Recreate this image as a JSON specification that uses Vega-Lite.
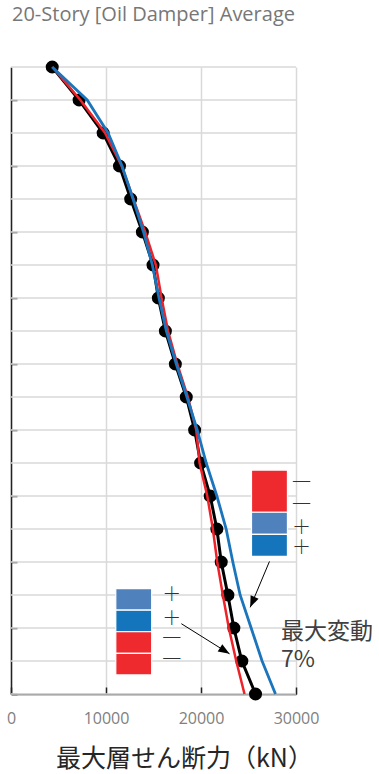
{
  "$schema": "https://vega.github.io/schema/vega-lite/v6.json",
  "width": 285,
  "height": 627,
  "autosize": "none",
  "padding": {"left": 11, "top": 67, "right": 83, "bottom": 80},
  "background": "white",
  "title": {"text": "20-Story [Oil Damper] Average", "anchor": "start", "frame": "group", "font": "Open Sans", "fontSize": 20, "fontWeight": "normal", "color": "#777777", "baseline": "alphabetic", "offset": 19, "dx": 1},
  "config": {
    "view": {"stroke": null},
    "axisX": {"grid": true, "gridColor": "#d9d9d9", "gridWidth": 1.5, "domainColor": "#222222", "domainWidth": 1.5, "tickColor": "#222222", "tickWidth": 1.5},
    "axisY": {"grid": false, "domainColor": "#222222", "domainWidth": 1.5, "tickColor": "#222222", "tickWidth": 1.5}
  },
  "datasets": {
    "profiles": [
      {"story": 20, "avg": 4340, "red": 4340, "blue": 4340},
      {"story": 19, "avg": 7170, "red": 7300, "blue": 8020},
      {"story": 18, "avg": 9700, "red": 9900, "blue": 10220},
      {"story": 17, "avg": 11420, "red": 11650, "blue": 11690},
      {"story": 16, "avg": 12600, "red": 12880, "blue": 12850},
      {"story": 15, "avg": 13830, "red": 14120, "blue": 13950},
      {"story": 14, "avg": 14950, "red": 15250, "blue": 14880},
      {"story": 13, "avg": 15510, "red": 15850, "blue": 15580},
      {"story": 12, "avg": 16250, "red": 16530, "blue": 16350},
      {"story": 11, "avg": 17300, "red": 17500, "blue": 17400},
      {"story": 10, "avg": 18450, "red": 18620, "blue": 18520},
      {"story": 9, "avg": 19330, "red": 19500, "blue": 19600},
      {"story": 8, "avg": 19960, "red": 19850, "blue": 20550},
      {"story": 7, "avg": 20970, "red": 20660, "blue": 21670},
      {"story": 6, "avg": 21670, "red": 21250, "blue": 22650},
      {"story": 5, "avg": 22130, "red": 21710, "blue": 23350},
      {"story": 4, "avg": 22830, "red": 22300, "blue": 24120},
      {"story": 3, "avg": 23460, "red": 22930, "blue": 25280},
      {"story": 2, "avg": 24300, "red": 23710, "blue": 26430},
      {"story": 1, "avg": 25740, "red": 24580, "blue": 27840}
    ],
    "boxes": [
      {"x0": 25315, "x1": 29100, "y0": 6.508, "y1": 7.786, "kind": "minus"},
      {"x0": 25315, "x1": 29100, "y0": 5.839, "y1": 6.508, "kind": "plus1"},
      {"x0": 25315, "x1": 29100, "y0": 5.169, "y1": 5.839, "kind": "plus2"},
      {"x0": 11030, "x1": 14810, "y0": 3.541, "y1": 4.195, "kind": "plus1"},
      {"x0": 11030, "x1": 14810, "y0": 2.887, "y1": 3.541, "kind": "plus2"},
      {"x0": 11030, "x1": 14810, "y0": 2.233, "y1": 2.887, "kind": "minus"},
      {"x0": 11030, "x1": 14810, "y0": 1.578, "y1": 2.233, "kind": "minus"}
    ],
    "signs": [
      {"x": 30570, "y": 7.39, "t": "一"},
      {"x": 30570, "y": 6.72, "t": "一"},
      {"x": 30570, "y": 6.03, "t": "＋"},
      {"x": 30570, "y": 5.41, "t": "＋"},
      {"x": 16910, "y": 4.01, "t": "＋"},
      {"x": 16910, "y": 3.28, "t": "＋"},
      {"x": 16910, "y": 2.67, "t": "一"},
      {"x": 16910, "y": 2.03, "t": "一"}
    ],
    "notes": [
      {"x": 28430, "y": 2.866, "t": "最大変動"},
      {"x": 28430, "y": 2.035, "t": "7%"}
    ],
    "arrows": [
      {"x0": 27206, "y0": 5.017, "x1": 25179, "y1": 3.626, "angle": 203},
      {"x0": 17931, "y0": 3.130, "x1": 23004, "y1": 2.217, "angle": 122}
    ]
  },
  "layer": [
    {
      "data": {"name": "profiles"},
      "mark": {"type": "rule", "color": "#d9d9d9", "strokeWidth": 1.5},
      "encoding": {
        "y": {"field": "story", "type": "quantitative", "title": null,
          "scale": {"domain": [1, 20], "nice": false, "zero": false},
          "axis": {"values": [1,2,3,4,5,6,7,8,9,10,11,12,13,14,15,16,17,18,19,20], "labels": false, "tickSize": -6}}
      }
    },
    {
      "data": {"name": "profiles"},
      "mark": {"type": "line", "color": "#000000", "strokeWidth": 3},
      "encoding": {
        "x": {"field": "avg", "type": "quantitative", "title": "最大層せん断力（kN）",
          "scale": {"domain": [0, 30000], "nice": false, "zero": false},
          "axis": {"values": [0, 10000, 20000, 30000], "format": "d", "tickSize": -7,
            "labelPadding": 23, "labelFont": "Open Sans", "labelFontSize": 16, "labelColor": "#808080", "labelFlush": false,
            "titleFont": "Noto Sans CJK JP", "titleFontSize": 25, "titleFontWeight": "normal", "titleColor": "#262626",
            "titleX": 173, "titleY": 72, "titleBaseline": "alphabetic", "titleAnchor": "middle", "titleAlign": "center"}},
        "y": {"field": "story", "type": "quantitative", "title": null},
        "order": {"field": "story", "type": "quantitative"}
      }
    },
    {
      "data": {"name": "profiles"},
      "mark": {"type": "point", "filled": true, "color": "#000000", "size": 170, "opacity": 1},
      "encoding": {
        "x": {"field": "avg", "type": "quantitative", "title": "最大層せん断力（kN）"},
        "y": {"field": "story", "type": "quantitative", "title": null}
      }
    },
    {
      "data": {"name": "profiles"},
      "mark": {"type": "line", "color": "#EE2229", "strokeWidth": 2.5},
      "encoding": {
        "x": {"field": "red", "type": "quantitative", "title": "最大層せん断力（kN）"},
        "y": {"field": "story", "type": "quantitative", "title": null},
        "order": {"field": "story", "type": "quantitative"}
      }
    },
    {
      "data": {"name": "profiles"},
      "mark": {"type": "line", "color": "#1B75BC", "strokeWidth": 2.8},
      "encoding": {
        "x": {"field": "blue", "type": "quantitative", "title": "最大層せん断力（kN）"},
        "y": {"field": "story", "type": "quantitative", "title": null},
        "order": {"field": "story", "type": "quantitative"}
      }
    },
    {
      "data": {"name": "boxes"},
      "mark": {"type": "rect", "stroke": "white", "strokeWidth": 1.2},
      "encoding": {
        "x": {"field": "x0", "type": "quantitative", "title": "最大層せん断力（kN）"},
        "x2": {"field": "x1"},
        "y": {"field": "y0", "type": "quantitative", "title": null},
        "y2": {"field": "y1"},
        "color": {"field": "kind", "type": "nominal", "legend": null,
          "scale": {"domain": ["minus", "plus1", "plus2"], "range": ["#EE2A2F", "#4F81BD", "#1475BC"]}}
      }
    },
    {
      "data": {"name": "signs"},
      "mark": {"type": "text", "font": "Noto Sans CJK JP", "fontSize": 19, "fontWeight": 300, "color": "#333333", "align": "center", "baseline": "middle"},
      "encoding": {
        "x": {"field": "x", "type": "quantitative", "title": "最大層せん断力（kN）"},
        "y": {"field": "y", "type": "quantitative", "title": null},
        "text": {"field": "t"}
      }
    },
    {
      "data": {"name": "notes"},
      "mark": {"type": "text", "font": "Noto Sans CJK JP", "fontSize": 23, "color": "#404040", "align": "left", "baseline": "middle"},
      "encoding": {
        "x": {"field": "x", "type": "quantitative", "title": "最大層せん断力（kN）"},
        "y": {"field": "y", "type": "quantitative", "title": null},
        "text": {"field": "t"}
      }
    },
    {
      "data": {"name": "arrows"},
      "mark": {"type": "rule", "color": "#000000", "strokeWidth": 1},
      "encoding": {
        "x": {"field": "x0", "type": "quantitative", "title": "最大層せん断力（kN）"},
        "x2": {"field": "x1"},
        "y": {"field": "y0", "type": "quantitative", "title": null},
        "y2": {"field": "y1"}
      }
    },
    {
      "data": {"name": "arrows"},
      "mark": {"type": "point", "filled": true, "color": "#000000", "opacity": 1, "size": 300, "shape": "M0,0 L-0.5,1.3 L0.5,1.3 Z"},
      "encoding": {
        "x": {"field": "x1", "type": "quantitative", "title": "最大層せん断力（kN）"},
        "y": {"field": "y1", "type": "quantitative", "title": null},
        "angle": {"field": "angle", "type": "quantitative", "scale": null}
      }
    }
  ]
}
